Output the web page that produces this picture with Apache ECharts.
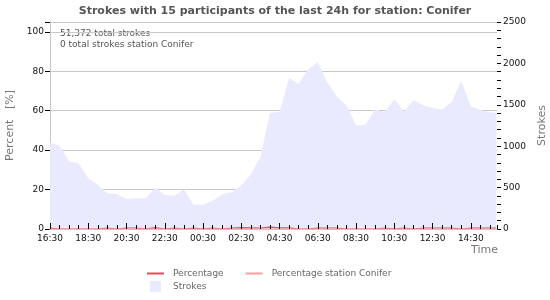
<!DOCTYPE html>
<html>
<head>
<meta charset="utf-8">
<script src="https://cdn.jsdelivr.net/npm/echarts@6/dist/echarts.min.js"></script>
<style>html,body{margin:0;padding:0;background:#fff}#c{width:550px;height:300px}</style>
</head>
<body>
<div id="c"></div>
<script>
var times = ["16:30","17:00","17:30","18:00","18:30","19:00","19:30","20:00","20:30","21:00","21:30","22:00",
  "22:30","23:00","23:30","00:00","00:30","01:00","01:30","02:00","02:30","03:00","03:30","04:00",
  "04:30","05:00","05:30","06:00","06:30","07:00","07:30","08:00","08:30","09:00","09:30","10:00",
  "10:30","11:00","11:30","12:00","12:30","13:00","13:30","14:00","14:30","15:00","15:30","15:50"];
var strokes = [1040,1005,815,795,612,530,432,423,362,370,370,504,
  411,402,479,292,292,342,419,443,525,660,870,1400,
  1417,1825,1750,1930,2015,1770,1600,1495,1250,1262,1447,1413,
  1568,1420,1558,1495,1460,1443,1535,1790,1480,1437,1410,1400];
var percentage = [0.5,0,0,0,0,0,0.5,0,0.5,0.5,0,0.7,
  0,0.5,0,0.5,0,0.5,0,0.5,0.7,0.6,0.5,1.0,
  0.6,0.6,0,0,0.5,0.5,0.5,0,0,0,0,0.5,
  0,0.5,0,0.5,0.5,0.5,0.5,0,0.5,0.5,0.5,0.5];
var percentageStation = [0,0,0,0,0,0,0,0,0,0,0,0,
  0,0,0,0,0,0,0,0,0,0,0,0,
  0,0,0,0,0,0,0,0,0,0,0,0,
  0,0,0,0,0,0,0,0,0,0,0,0];
var labelTicks = [0,120,240,360,480,600,720,840,960,1080,1200,1320];
var titleText = "Strokes with 15 participants of the last 24h for station: Conifer";
var infoLines = ["51,372 total strokes", "0 total strokes station Conifer"];

var START = 16*60+30;
function toMin(t){var p=t.split(':');var v=(+p[0])*60+(+p[1])-START;return (v+1440)%1440;}
function fmt(v){var t=(v+START)%1440;var h=Math.floor(t/60),m=t%60;return (h<10?'0':'')+h+':'+(m<10?'0':'')+m;}
function pairs(arr){return arr.map(function(v,i){return [toMin(times[i]),v];});}

var FONT = 'DejaVu Sans';
var XMAX = 1402;
var chart = echarts.init(document.getElementById('c'), null, {renderer:'canvas'});
chart.setOption({
  animation:false,
  backgroundColor:'#fff',
  textStyle:{fontFamily:FONT},
  title:{text:titleText,left:'center',top:1,textStyle:{fontFamily:FONT,fontSize:11,fontWeight:'bold',color:'#555'}},
  grid:{left:50,right:53,top:22,bottom:71,containLabel:false,outerBoundsMode:'none'},
  legend:[
    {left:142,top:264,itemWidth:17,itemHeight:2,itemGap:22,icon:'rect',selectedMode:false,
     data:['Percentage','Percentage station Conifer'],
     textStyle:{fontFamily:FONT,fontSize:9,color:'#666',padding:[0,0,0,4]}},
    {left:145,top:276,itemWidth:11,itemHeight:11,icon:'rect',selectedMode:false,
     data:['Strokes'],
     textStyle:{fontFamily:FONT,fontSize:9,color:'#666',padding:[0,0,0,7]}}
  ],
  graphic:[{type:'text',left:60,top:28,style:{text:infoLines.join('\n'),font:'9px "DejaVu Sans"',fill:'#555',lineHeight:11}}],
  xAxis:[
    {type:'value',position:'bottom',min:0,max:XMAX,interval:30,z:3,
     axisLine:{show:true,onZero:false,lineStyle:{color:'#c8c8c8',width:1}},
     axisTick:{show:true,inside:true,length:4,lineStyle:{color:'#000'}},
     axisLabel:{show:false},splitLine:{show:false}},
    {type:'value',position:'bottom',min:0,max:XMAX,interval:120,z:3,
     name:'Time',nameLocation:'end',nameGap:1,
     nameTextStyle:{fontFamily:FONT,fontSize:11,color:'#777',align:'right',verticalAlign:'top',padding:[16,0,0,0]},
     axisLine:{show:false,onZero:false},
     axisTick:{show:true,inside:true,length:6,customValues:labelTicks,lineStyle:{color:'#000'}},
     axisLabel:{show:true,margin:5,customValues:labelTicks,fontFamily:FONT,fontSize:9,color:'#111',
       formatter:function(v){return v%120===0?fmt(v):'';}},
     splitLine:{show:false}},
    {type:'value',position:'top',min:0,max:XMAX,
     axisLine:{show:true,onZero:false,lineStyle:{color:'#c8c8c8',width:1}},
     axisTick:{show:false},axisLabel:{show:false},splitLine:{show:false}}
  ],
  yAxis:[
    {type:'value',position:'left',min:0,max:105,interval:20,
     name:'Percent   [%]',nameLocation:'middle',nameRotate:90,nameGap:33,
     nameTextStyle:{fontFamily:FONT,fontSize:11,color:'#777'},
     axisLine:{show:true,onZero:false,lineStyle:{color:'#c8c8c8'}},
     axisTick:{show:true,length:5,lineStyle:{color:'#000'}},
     axisLabel:{fontFamily:FONT,fontSize:9,color:'#111',margin:6,
       formatter:function(v){return v%20===0?String(v):'';}},
     splitLine:{show:true,lineStyle:{color:'#c8c8c8',width:1}}},
    {type:'value',position:'right',min:0,max:2500,interval:500,
     name:'Strokes',nameLocation:'middle',nameRotate:90,nameGap:38,
     nameTextStyle:{fontFamily:FONT,fontSize:11,color:'#777'},
     axisLine:{show:false,onZero:false},
     axisTick:{show:true,length:4,lineStyle:{color:'#000'}},
     minorTick:{show:true,splitNumber:5,length:4,lineStyle:{color:'#000'}},
     axisLabel:{fontFamily:FONT,fontSize:9,color:'#111',margin:6,formatter:function(v){return String(v);}},
     splitLine:{show:false}}
  ],
  series:[
    {name:'Strokes',type:'line',xAxisIndex:0,yAxisIndex:1,data:pairs(strokes),symbol:'none',z:1,
     lineStyle:{width:1,opacity:0,color:'#eaeaff'},areaStyle:{color:'#eaeaff',opacity:1},itemStyle:{color:'#eaeaff'}},
    {name:'Percentage',type:'line',xAxisIndex:0,yAxisIndex:0,data:pairs(percentage),symbol:'none',z:2,
     lineStyle:{width:1.2,color:'#e0505a'},itemStyle:{color:'#e0505a'}},
    {name:'Percentage station Conifer',type:'line',xAxisIndex:0,yAxisIndex:0,data:pairs(percentageStation),symbol:'none',z:2,
     lineStyle:{width:1,color:'#ff9c9c'},itemStyle:{color:'#ff9c9c'}}
  ]
});
</script>
</body>
</html>
